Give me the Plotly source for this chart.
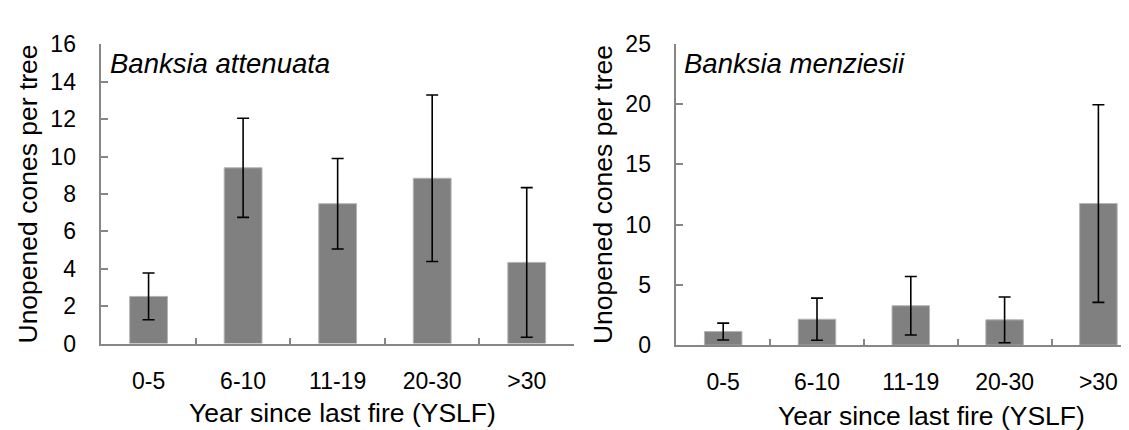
import plotly.graph_objects as go

categories = ["0-5", "6-10", "11-19", "20-30", ">30"]
attenuata_mean = [2.52, 9.40, 7.48, 8.84, 4.34]
attenuata_err = [1.25, 2.65, 2.42, 4.45, 4.00]
menziesii_mean = [1.13, 2.15, 3.27, 2.10, 11.75]
menziesii_err = [0.70, 1.75, 2.43, 1.90, 8.20]

left_yticks = [0, 2, 4, 6, 8, 10, 12, 14, 16]
right_yticks = [0, 5, 10, 15, 20, 25]

x_title = "Year since last fire (YSLF)"
y_title = "Unopened cones per tree"

FONT = "Liberation Sans, Arial, sans-serif"
AXIS_GREY = "#868686"
BAR_GREY = "#808080"

fig = go.Figure()

fig.add_trace(go.Bar(
    x=categories, y=attenuata_mean, width=0.4,
    marker=dict(color=BAR_GREY, line=dict(color="#b4b4b4", width=1)),
    error_y=dict(type="data", array=attenuata_err, color="black", thickness=1.6, width=6),
    xaxis="x", yaxis="y", showlegend=False,
))
fig.add_trace(go.Bar(
    x=categories, y=menziesii_mean, width=0.4,
    marker=dict(color=BAR_GREY, line=dict(color="#b4b4b4", width=1)),
    error_y=dict(type="data", array=menziesii_err, color="black", thickness=1.6, width=6),
    xaxis="x2", yaxis="y2", showlegend=False,
))

W, H = 1129, 430
def px_x(v):
    return v / W
def px_y(v):
    return (H - v) / H

xcommon = dict(
    type="category", showline=True, linecolor=AXIS_GREY, linewidth=1.5,
    ticks="inside", tickson="boundaries", ticklen=6, tickcolor=AXIS_GREY, tickwidth=1.5,
    tickfont=dict(family=FONT, size=23, color="black"),
    showgrid=False, zeroline=False, ticklabelstandoff=16,
)
ycommon = dict(
    showline=True, linecolor=AXIS_GREY, linewidth=1.5,
    ticks="inside", ticklen=7, tickcolor=AXIS_GREY, tickwidth=1.5,
    tickfont=dict(family=FONT, size=23, color="black"),
    showgrid=False, zeroline=False, ticklabelstandoff=19,
    title=dict(text=y_title, font=dict(family=FONT, size=26.5, color="black"), standoff=5),
)

title_font = dict(family=FONT, size=26.5, color="black")

fig.update_layout(
    width=W, height=H,
    margin=dict(l=0, r=0, t=0, b=0),
    paper_bgcolor="white", plot_bgcolor="white",
    xaxis=dict(xcommon, domain=[px_x(93.3), px_x(566)], range=[-0.5, 4.5], anchor="y"),
    yaxis=dict(ycommon, domain=[px_y(343.3), px_y(24.9)], range=[0, 16],
               tickvals=left_yticks, anchor="x"),
    xaxis2=dict(xcommon, domain=[px_x(668.3), 1.0], range=[-0.5, -0.5 + (W - 668.3) / 93.8], anchor="y2"),
    yaxis2=dict(ycommon, domain=[px_y(345), px_y(24.3)], range=[0, 25],
                tickvals=right_yticks, anchor="x2"),
    annotations=[
        dict(text="<i>Banksia attenuata</i>", xref="paper", yref="paper",
             x=px_x(100), y=px_y(45), xanchor="left", yanchor="middle", showarrow=False,
             font=dict(family=FONT, size=27.5, color="black")),
        dict(text="<i>Banksia menziesii</i>", xref="paper", yref="paper",
             x=px_x(674), y=px_y(45), xanchor="left", yanchor="middle", showarrow=False,
             font=dict(family=FONT, size=27.5, color="black")),
        dict(text=x_title, xref="paper", yref="paper",
             x=px_x(334), y=px_y(417), xanchor="center", yanchor="middle", showarrow=False,
             font=title_font),
        dict(text=x_title, xref="paper", yref="paper",
             x=px_x(923), y=px_y(420), xanchor="center", yanchor="middle", showarrow=False,
             font=title_font),
    ],
)

fig.write_html("out.html")
